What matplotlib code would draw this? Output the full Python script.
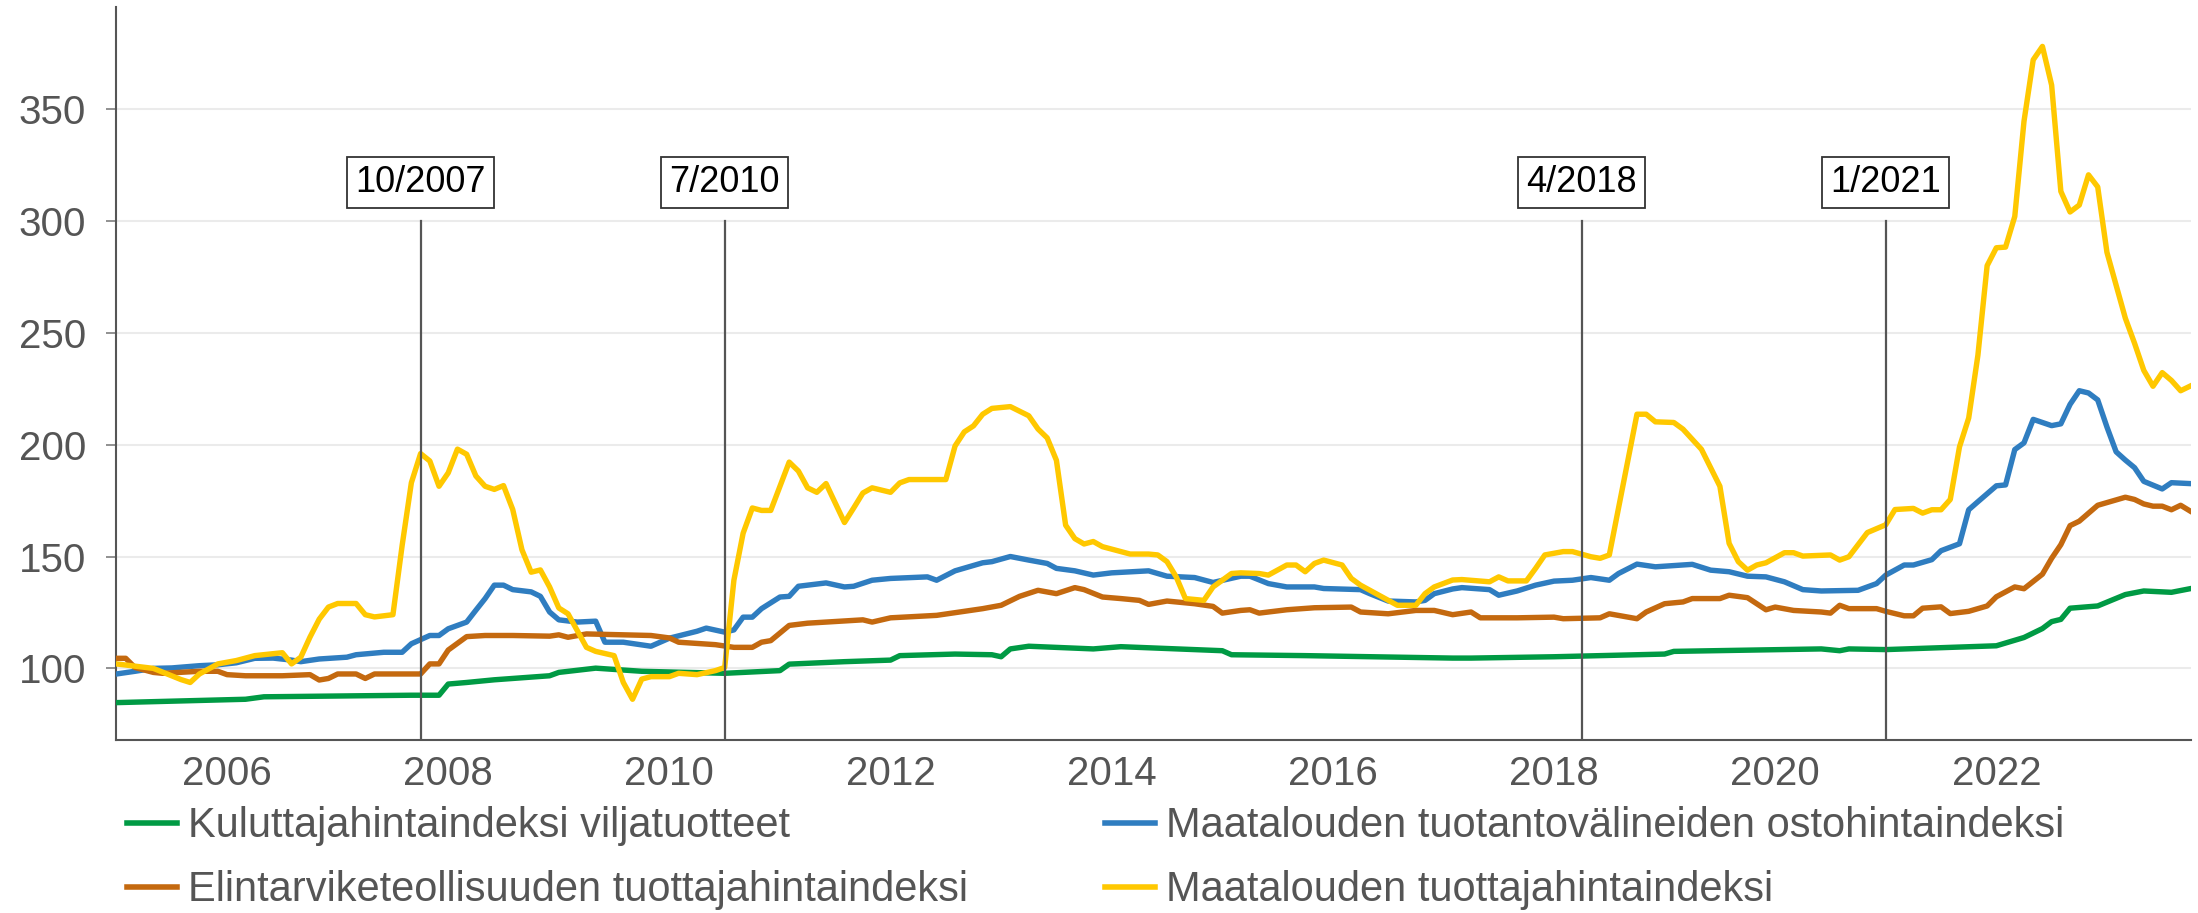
import matplotlib
matplotlib.use("Agg")
import matplotlib.pyplot as plt

plt.rcParams['font.family'] = ['Liberation Sans', 'DejaVu Sans']

# kuukaudet laskettu tammikuusta 2005 (0 = 1/2005)
kuluttaja_kk = [0, 14, 16, 32, 35, 36, 38, 41, 47, 48, 52, 57, 66, 72, 73, 79, 84, 85, 91, 95, 96, 97,
                99, 106, 109, 120, 121, 129, 145, 147, 156, 168, 169, 185, 187, 188, 192, 204, 207,
                209, 210, 211, 212, 215, 216, 218, 220, 221, 223, 225]
kuluttaja = [84.7, 86.2, 87.3, 88.0, 88.0, 93.0, 93.7, 94.9, 96.7, 98.2, 100.1, 98.7, 97.8, 99.0, 101.9,
             103.0, 103.7, 105.7, 106.4, 106.1, 105.2, 108.7, 109.9, 108.7, 109.7, 107.9, 106.1, 105.7,
             104.6, 104.6, 105.2, 106.4, 107.6, 108.7, 107.9, 108.7, 108.4, 110.1, 113.8, 117.8, 120.9,
             121.9, 126.9, 127.9, 129.6, 133.0, 134.6, 134.4, 134.0, 135.6]

elintarvike_kk = [0, 1, 2, 4, 5, 9, 11, 12, 14, 18, 21, 22, 23, 24, 26, 27, 28, 33, 34, 35, 36, 38, 40,
                  43, 47, 48, 49, 51, 54, 58, 60, 61, 65, 67, 69, 70, 71, 73, 75, 81, 82, 84, 89, 94,
                  96, 98, 100, 102, 104, 105, 107, 109, 111, 112, 114, 117, 119, 120, 122, 123, 124,
                  127, 130, 134, 135, 138, 141, 143, 145, 147, 148, 152, 156, 157, 161, 162, 165, 166,
                  168, 170, 171, 174, 175, 177, 179, 180, 182, 185, 186, 187, 188, 191, 192, 194, 195,
                  196, 198, 199, 201, 203, 204, 206, 207, 209, 210, 211, 212, 213, 215, 216, 218, 219,
                  220, 221, 222, 223, 224, 225]
elintarvike = [104.5, 104.5, 100.4, 98.2, 97.8, 98.7, 98.7, 97.2, 96.7, 96.7, 97.2, 94.8, 95.5, 97.5,
               97.5, 95.5, 97.5, 97.5, 102.0, 102.0, 108.2, 114.2, 114.7, 114.7, 114.4, 115.0, 113.9,
               115.4, 115.1, 114.7, 113.6, 111.7, 110.6, 109.4, 109.4, 111.7, 112.4, 119.2, 120.2,
               121.7, 120.7, 122.6, 123.7, 126.7, 128.2, 132.2, 134.9, 133.4, 136.1, 135.2, 131.9,
               131.2, 130.4, 128.6, 130.1, 128.9, 127.7, 124.7, 125.9, 126.2, 124.7, 126.2, 127.1,
               127.4, 125.2, 124.4, 125.9, 125.9, 124.0, 125.2, 122.6, 122.6, 122.9, 122.2, 122.6,
               124.4, 122.2, 125.2, 128.9, 129.7, 131.2, 131.2, 132.7, 131.6, 126.2, 127.4, 125.9,
               125.2, 124.7, 128.2, 126.7, 126.7, 125.5, 123.5, 123.5, 126.9, 127.5, 124.5, 125.5,
               127.9, 132.0, 136.4, 135.6, 142.1, 149.2, 155.3, 163.8, 165.8, 172.9, 174.1, 176.5,
               175.5, 173.5, 172.5, 172.5, 170.9, 172.9, 170.4]

osto_kk = [0, 2, 4, 6, 9, 11, 13, 15, 17, 19, 20, 22, 25, 26, 29, 31, 32, 34, 35, 36, 38, 39, 40, 41,
           42, 43, 45, 46, 47, 48, 50, 52, 53, 55, 58, 60, 63, 64, 66, 67, 68, 69, 70, 72, 73, 74, 77,
           79, 80, 82, 84, 88, 89, 91, 94, 95, 97, 99, 101, 102, 104, 106, 108, 112, 114, 117, 119,
           122, 123, 125, 127, 130, 131, 135, 136, 138, 141, 142, 143, 145, 146, 149, 150, 152, 154,
           156, 158, 160, 162, 163, 165, 167, 171, 173, 175, 177, 179, 181, 183, 185, 189, 191, 192,
           194, 195, 197, 198, 200, 201, 202, 204, 205, 206, 207, 208, 210, 211, 212, 213, 214, 215,
           216, 217, 218, 219, 220, 222, 223, 225]
osto = [97.5, 98.7, 100.0, 100.2, 101.2, 101.6, 102.5, 104.5, 104.6, 103.7, 103.0, 104.2, 105.0, 106.1,
        107.2, 107.2, 111.0, 114.7, 114.7, 117.7, 120.7, 126.0, 131.2, 137.2, 137.2, 135.2, 134.2,
        132.2, 125.2, 121.7, 120.7, 121.1, 111.7, 111.7, 109.9, 113.5, 116.6, 118.0, 116.2, 117.2,
        122.9, 122.9, 126.7, 131.9, 132.2, 136.7, 138.2, 136.4, 136.7, 139.4, 140.2, 140.9, 139.4,
        143.6, 147.2, 147.7, 150.0, 148.4, 146.9, 144.7, 143.6, 141.7, 142.7, 143.6, 141.2, 140.6,
        138.4, 141.2, 141.2, 137.9, 136.4, 136.4, 135.7, 135.2, 133.4, 130.1, 129.7, 130.4, 133.4,
        135.5, 136.1, 135.2, 132.7, 134.6, 137.2, 139.0, 139.4, 140.6, 139.4, 142.4, 146.6, 145.4,
        146.5, 143.9, 143.2, 141.2, 140.9, 138.7, 135.2, 134.6, 134.9, 137.9, 141.7, 146.2, 146.2,
        148.6, 152.6, 155.7, 170.9, 174.5, 181.6, 182.0, 197.8, 200.8, 211.3, 208.5, 209.3, 218.0,
        224.1, 223.1, 220.0, 207.9, 196.8, 193.1, 189.7, 183.6, 180.2, 183.0, 182.6]

tuottaja_kk = [0, 2, 4, 7, 8, 9, 11, 13, 15, 18, 19, 20, 21, 22, 23, 24, 26, 27, 28, 30, 31, 32, 33,
               34, 35, 36, 37, 38, 39, 40, 41, 42, 43, 44, 45, 46, 47, 48, 49, 51, 52, 54, 55, 56, 57,
               58, 60, 61, 63, 65, 66, 67, 68, 69, 70, 71, 72, 73, 74, 75, 76, 77, 78, 79, 80, 81, 82,
               84, 85, 86, 90, 91, 92, 93, 94, 95, 97, 99, 100, 101, 102, 103, 104, 105, 106, 107,
               109, 110, 112, 113, 114, 115, 116, 118, 119, 121, 122, 124, 125, 127, 128, 129, 130,
               131, 133, 134, 135, 137, 139, 141, 142, 143, 145, 146, 149, 150, 151, 153, 154, 155,
               157, 158, 160, 161, 162, 165, 166, 167, 169, 170, 172, 174, 175, 176, 177, 178, 179,
               181, 182, 183, 186, 187, 188, 190, 192, 193, 195, 196, 197, 198, 199, 200, 201, 202,
               203, 204, 205, 206, 207, 208, 209, 210, 211, 212, 213, 214, 215, 216, 218, 219, 220,
               221, 222, 223, 224, 225]
tuottaja = [102.0, 101.0, 100.0, 95.0, 93.7, 97.5, 102.0, 103.5, 105.7, 107.0, 102.0, 105.0, 114.0,
            122.0, 127.4, 129.0, 129.0, 124.0, 123.0, 124.0, 155.0, 183.0, 196.0, 192.7, 181.4, 187.4,
            198.0, 195.7, 186.0, 181.4, 180.0, 181.7, 171.0, 153.0, 143.0, 144.0, 136.4, 127.0,
            124.4, 109.4, 107.6, 105.7, 93.7, 86.2, 95.2, 96.3, 96.3, 97.8, 97.2, 99.0, 100.4, 139.4,
            160.4, 171.7, 170.6, 170.6, 181.4, 192.2, 188.2, 180.7, 178.7, 182.6, 173.9, 165.2,
            171.7, 178.4, 180.7, 178.7, 182.9, 184.4, 184.4, 199.4, 205.7, 208.4, 213.6, 216.2,
            217.0, 212.9, 207.0, 203.0, 193.0, 164.0, 158.0, 155.6, 156.7, 154.4, 152.2, 151.1,
            151.1, 150.7, 147.7, 140.9, 131.2, 130.4, 136.4, 142.4, 142.7, 142.4, 141.7, 146.2,
            146.2, 143.2, 146.9, 148.4, 146.2, 140.2, 137.2, 132.7, 128.2, 128.2, 133.4, 136.4,
            139.5, 139.7, 138.7, 140.9, 139.1, 139.1, 144.7, 150.7, 152.2, 152.2, 149.9, 149.2,
            150.7, 213.6, 213.6, 210.2, 209.9, 206.9, 197.9, 181.4, 155.9, 147.7, 143.9, 146.2,
            147.2, 151.7, 151.7, 150.2, 150.7, 148.4, 149.9, 160.7, 164.2, 171.0, 171.5, 169.4,
            170.9, 170.9, 175.5, 199.0, 211.9, 240.0, 280.0, 288.0, 288.3, 302.0, 344.5, 372.0,
            378.0, 360.7, 313.2, 304.0, 307.1, 320.6, 315.2, 286.0, 256.5, 245.3, 233.2, 226.1,
            232.2, 228.7, 224.1, 226.1]

sarjat = [
    ("Kuluttajahintaindeksi viljatuotteet", kuluttaja_kk, kuluttaja, "#009a44"),
    ("Elintarviketeollisuuden tuottajahintaindeksi", elintarvike_kk, elintarvike, "#c4690f"),
    ("Maatalouden tuotantovälineiden ostohintaindeksi", osto_kk, osto, "#2f7dc0"),
    ("Maatalouden tuottajahintaindeksi", tuottaja_kk, tuottaja, "#ffc800"),
]

merkinnat = ["10/2007", "7/2010", "4/2018", "1/2021"]
vuodet = [2006, 2008, 2010, 2012, 2014, 2016, 2018, 2020, 2022]


def kk_vuodeksi(kk):
    return 2005 + kk / 12.0


fig = plt.figure(figsize=(21.98, 9.13), dpi=100)
ax = fig.add_axes([0.053, 0.19, 0.9438, 0.8023])

# draw order: green, blue, brown under yellow
piirto = [sarjat[0], sarjat[2], sarjat[1], sarjat[3]]
viivat = {}
for nimi, kk, arvot, vari in piirto:
    x = [kk_vuodeksi(k) for k in kk]
    l, = ax.plot(x, arvot, color=vari, lw=3.9, solid_joinstyle="round", label=nimi, zorder=3)
    viivat[nimi] = l

for m in merkinnat:
    kuu, vuosi = m.split("/")
    xm = int(vuosi) + (int(kuu) - 1) / 12.0
    ax.plot([xm, xm], [68.2, 300], color="#555555", lw=1.6, zorder=4)
    ax.text(xm, 317, m, ha="center", va="center", fontsize=26, color="black", zorder=5,
            bbox=dict(boxstyle="square,pad=0.22", fc="white", ec="#333333", lw=1.3))

ax.set_xlim(2005.0, 2023.76)
ax.set_ylim(68.2, 395.6)
ax.set_yticks([100, 150, 200, 250, 300, 350])
ax.set_xticks(vuodet)
ax.set_xticklabels([str(v) for v in vuodet])
ax.grid(axis="y", color="#ebebeb", lw=1.5, zorder=0)
ax.set_axisbelow(True)
for s in ["top", "right"]:
    ax.spines[s].set_visible(False)
for s in ["left", "bottom"]:
    ax.spines[s].set_color("#555555")
    ax.spines[s].set_linewidth(1.5)
ax.tick_params(axis="y", length=7, width=1.3, color="#888888", labelsize=29, labelcolor="#555555", pad=15)
ax.tick_params(axis="x", length=0, labelsize=29, labelcolor="#555555", pad=11)

jarj = [sarjat[0][0], sarjat[1][0], sarjat[2][0], sarjat[3][0]]
leg = fig.legend([viivat[n] for n in jarj], jarj, ncol=2, loc="upper left",
                 bbox_to_anchor=(0.058, 0.117), frameon=False, fontsize=30,
                 handlelength=1.18, handletextpad=0.27, columnspacing=3.3,
                 labelspacing=0.58, borderpad=0, borderaxespad=0)
for t in leg.get_texts():
    t.set_color("#555555")
for h in leg.legend_handles:
    h.set_linewidth(4.0)

fig.savefig("out.png", dpi=100)
